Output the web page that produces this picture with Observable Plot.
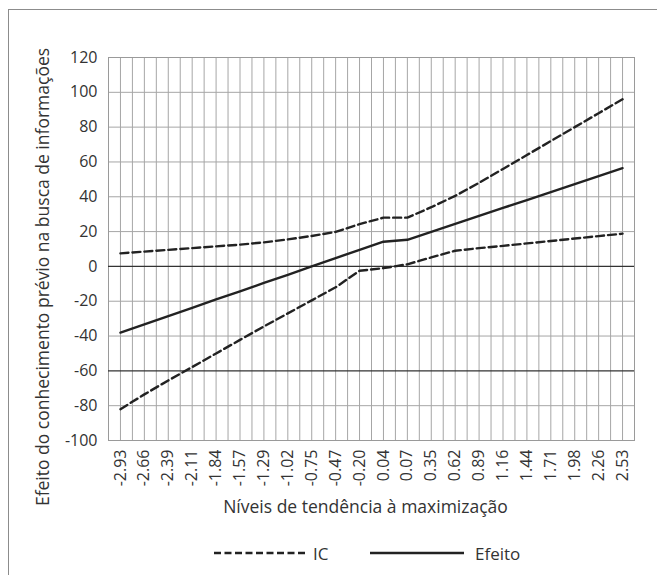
<!DOCTYPE html>
<html lang="pt">
<head>
<meta charset="utf-8">
<script src="https://cdn.jsdelivr.net/npm/d3@7"></script>
<script src="https://cdn.jsdelivr.net/npm/@observablehq/plot@0.6"></script>
<style>
  html, body { margin: 0; padding: 0; background: #fff; overflow: hidden; }
  body { width: 657px; height: 575px; position: relative; font-family: "Open Sans", sans-serif; color: #333; }
  #border { position: absolute; left: 8px; top: 9px; width: 700px; height: 600px;
            border-left: 1.5px solid #8c8c8c; border-top: 1.5px solid #8c8c8c; }
  #chart { position: absolute; left: 0; top: 0; }
  #legend { position: absolute; left: 0; top: 541px; width: 657px; height: 24px; font-size: 17px; color: #333; }
  #legend .item { position: absolute; top: 0; display: flex; align-items: center; height: 24px; }
  #legend svg { display: block; }
</style>
</head>
<body>
<div id="border"></div>
<div id="chart"></div>
<div id="legend"></div>
<script>
// Levels of the maximization tendency (x categories)
const xLabels = ["-2.93", "-2.66", "-2.39", "-2.11", "-1.84", "-1.57", "-1.29", "-1.02", "-0.75", "-0.47", "-0.20",
                 "0.04", "0.07", "0.35", "0.62", "0.89", "1.16", "1.44", "1.71", "1.98", "2.26", "2.53"];

// Effect of prior knowledge on information search
const efeito  = [-38, -33.3, -28.5, -23.8, -19, -14.3, -9.5, -4.8, 0, 4.8, 9.5,
                 14.2, 15.3, 19.9, 24.4, 29, 33.6, 38.1, 42.7, 47.3, 51.9, 56.4];
// Confidence interval bounds
const icUpper = [7.5, 8.5, 9.5, 10.5, 11.5, 12.5, 13.8, 15.5, 17.5, 19.8, 24.3,
                 28, 28, 34, 40.5, 48, 56, 64, 72, 80, 88, 96];
const icLower = [-82, -73.5, -65.5, -57.8, -50, -42.2, -34.5, -27, -19.5, -12, -2.5,
                 -1, 1.2, 5.2, 9, 10.5, 11.8, 13.2, 14.6, 16, 17.4, 18.8];

const yTicks = [-100, -80, -60, -40, -20, 0, 20, 40, 60, 80, 100, 120];
const darkRules = [0, -60];

const xTitle = "Níveis de tendência à maximização";
const yTitle = "Efeito do conhecimento prévio na busca de informações";

const idx = d3.range(xLabels.length);
const series = (vals) => vals.map((v, i) => ({i, v}));

const grid = "#a6a6a6";
const ink = "#222";

const chart = Plot.plot({
  width: 657,
  height: 525,
  marginTop: 57,
  marginBottom: 85,
  marginLeft: 108,
  marginRight: 23,
  style: {fontFamily: "Open Sans, sans-serif", color: "#333", background: "transparent"},
  x: {domain: [-0.5, xLabels.length - 0.5]},
  y: {domain: [-100, 120]},
  marks: [
    // vertical grid: at category centres and boundaries
    Plot.ruleX(d3.range(-0.5, xLabels.length, 0.5), {stroke: grid, strokeWidth: 1}),
    Plot.ruleY(yTicks.filter(d => !darkRules.includes(d)), {stroke: grid, strokeWidth: 1}),
    Plot.frame({stroke: "#9a9a9a", strokeWidth: 1}),
    Plot.ruleY(darkRules, {stroke: "#333", strokeWidth: 1.3}),
    Plot.line(series(icUpper), {x: "i", y: "v", stroke: ink, strokeWidth: 2.4, strokeDasharray: "8,4"}),
    Plot.line(series(icLower), {x: "i", y: "v", stroke: ink, strokeWidth: 2.4, strokeDasharray: "8,4"}),
    Plot.line(series(efeito), {x: "i", y: "v", stroke: ink, strokeWidth: 2.4}),
    Plot.axisY(yTicks, {tickSize: 0, tickPadding: 11, tickFormat: d => String(d), fontSize: 16, label: null}),
    Plot.axisX(idx, {tickSize: 0, tickPadding: 9, tickRotate: -90, tickFormat: i => xLabels[i], fontSize: 16, label: null}),
    Plot.text([xTitle], {frameAnchor: "bottom", text: d => d, dx: -6, dy: 72, fontSize: 17.5, fill: "#333"}),
    Plot.text([yTitle], {frameAnchor: "left", textAnchor: "middle", text: d => d, rotate: -90,
                         dx: -65, dy: 28, fontSize: 17.5, fill: "#333"})
  ]
});
document.getElementById("chart").appendChild(chart);

// Legend below the chart
const legendItems = [
  {label: "IC", dash: "7,3.5", left: 214, w: 94},
  {label: "Efeito", dash: null, left: 370, w: 94}
];
const legend = document.getElementById("legend");
for (const it of legendItems) {
  const item = document.createElement("div");
  item.className = "item";
  item.style.left = it.left + "px";
  const svg = d3.create("svg").attr("width", it.w).attr("height", 24);
  svg.append("line").attr("x1", 0).attr("x2", it.w).attr("y1", 12).attr("y2", 12)
    .attr("stroke", ink).attr("stroke-width", 2.4).attr("stroke-dasharray", it.dash);
  item.appendChild(svg.node());
  const span = document.createElement("span");
  span.textContent = it.label;
  span.style.marginLeft = it.dash ? "5px" : "11px";
  item.appendChild(span);
  legend.appendChild(item);
}
</script>
</body>
</html>
